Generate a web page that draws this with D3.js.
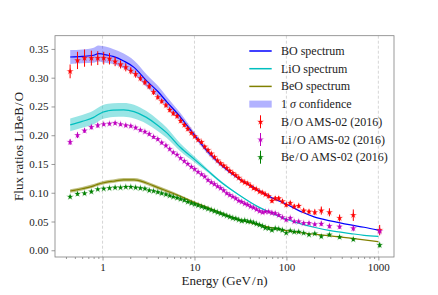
<!DOCTYPE html>
<html lang="en">
<head>
<meta charset="UTF-8">
<title>LiBeB/O ratios</title>
<script src="https://cdn.jsdelivr.net/npm/d3@7"></script>
<style>
  body { margin: 0; background: #fff; }
  text { font-family: "Liberation Serif", "DejaVu Serif", serif; fill: #222; }
</style>
</head>
<body>
<script>
// AMS-02 data points (kinetic energy per nucleon, GeV/n)
const energy = [0.444, 0.534, 0.637, 0.756, 0.887, 1.03, 1.19, 1.37, 1.57, 1.79,
  2.03, 2.29, 2.58, 2.89, 3.22, 3.59, 3.99, 4.40, 4.89, 5.38,
  5.88, 6.47, 7.07, 7.76, 8.46, 9.26, 10.05, 10.95, 11.95, 12.94,
  14.04, 15.24, 16.49, 17.84, 19.28, 20.83, 22.48, 24.23, 26.13, 28.18,
  30.33, 32.68, 35.22, 37.92, 40.77, 43.92, 47.27, 51.07, 55.07, 59.07,
  64.07, 69.57, 75.57, 82.57, 90.57, 99.57, 110.1, 121.6, 136.1, 154.1,
  176.1, 203.6, 239.6, 293.6, 379, 534, 1034];

const boData = [0.311, 0.330, 0.334, 0.334, 0.334, 0.334, 0.333, 0.328, 0.323, 0.318,
  0.312, 0.306, 0.299, 0.292, 0.285, 0.275, 0.266, 0.259, 0.252, 0.244,
  0.238, 0.233, 0.225, 0.218, 0.211, 0.204, 0.198, 0.192, 0.188, 0.180,
  0.174, 0.168, 0.162, 0.156, 0.151, 0.147, 0.143, 0.138, 0.134, 0.130,
  0.126, 0.121, 0.118, 0.116, 0.112, 0.108, 0.106, 0.102, 0.100, 0.097,
  0.094, 0.086, 0.090, 0.090, 0.085, 0.079, 0.082, 0.076, 0.077, 0.069,
  0.067, 0.066, 0.069, 0.066, 0.056, 0.061, 0.035];
const boErr = [0.012, 0.015, 0.015, 0.013, 0.012, 0.011, 0.010, 0.008, 0.007, 0.007,
  0.006, 0.006, 0.005, 0.005, 0.005, 0.005, 0.004, 0.004, 0.004, 0.004,
  0.004, 0.004, 0.004, 0.004, 0.004, 0.003, 0.003, 0.003, 0.003, 0.003,
  0.003, 0.003, 0.003, 0.003, 0.003, 0.003, 0.003, 0.003, 0.003, 0.003,
  0.003, 0.003, 0.003, 0.003, 0.003, 0.003, 0.003, 0.003, 0.003, 0.003,
  0.004, 0.004, 0.004, 0.004, 0.004, 0.004, 0.004, 0.004, 0.004, 0.004,
  0.004, 0.005, 0.007, 0.007, 0.006, 0.010, 0.009];

const lioData = [0.188, 0.200, 0.208, 0.214, 0.217, 0.219, 0.220, 0.221, 0.219, 0.217,
  0.216, 0.213, 0.209, 0.206, 0.202, 0.197, 0.193, 0.187, 0.182, 0.176,
  0.170, 0.166, 0.160, 0.155, 0.150, 0.145, 0.141, 0.136, 0.132, 0.128,
  0.122, 0.118, 0.115, 0.111, 0.108, 0.104, 0.099, 0.096, 0.093, 0.090,
  0.086, 0.084, 0.081, 0.079, 0.076, 0.074, 0.071, 0.068, 0.066, 0.067,
  0.067, 0.065, 0.064, 0.061, 0.057, 0.053, 0.056, 0.050, 0.050, 0.047,
  0.047, 0.045, 0.046, 0.042, 0.041, 0.038, 0.033];
const lioErr = [0.005, 0.005, 0.004, 0.004, 0.004, 0.003, 0.003, 0.003, 0.003, 0.003,
  0.003, 0.003, 0.003, 0.003, 0.003, 0.003, 0.003, 0.003, 0.003, 0.003,
  0.002, 0.002, 0.002, 0.002, 0.002, 0.002, 0.002, 0.002, 0.002, 0.002,
  0.002, 0.002, 0.002, 0.002, 0.002, 0.002, 0.002, 0.002, 0.002, 0.002,
  0.002, 0.002, 0.002, 0.002, 0.002, 0.002, 0.002, 0.002, 0.002, 0.002,
  0.003, 0.003, 0.003, 0.003, 0.003, 0.003, 0.003, 0.003, 0.003, 0.003,
  0.003, 0.003, 0.004, 0.004, 0.004, 0.005, 0.005];

const beoData = [0.093, 0.098, 0.099, 0.102, 0.106, 0.107, 0.108, 0.109, 0.109, 0.110,
  0.110, 0.109, 0.108, 0.107, 0.104, 0.103, 0.101, 0.099, 0.097, 0.095,
  0.093, 0.091, 0.089, 0.087, 0.084, 0.082, 0.080, 0.078, 0.076, 0.074,
  0.072, 0.070, 0.068, 0.066, 0.064, 0.062, 0.060, 0.058, 0.056, 0.055,
  0.053, 0.051, 0.052, 0.050, 0.050, 0.048, 0.046, 0.044, 0.042, 0.039,
  0.038, 0.035, 0.038, 0.037, 0.035, 0.030, 0.034, 0.032, 0.032, 0.030,
  0.027, 0.029, 0.024, 0.027, 0.023, 0.019, 0.009];
const beoErr = [0.003, 0.003, 0.003, 0.003, 0.002, 0.002, 0.002, 0.002, 0.002, 0.002,
  0.002, 0.002, 0.002, 0.002, 0.002, 0.002, 0.002, 0.002, 0.002, 0.002,
  0.002, 0.002, 0.002, 0.002, 0.002, 0.002, 0.002, 0.002, 0.002, 0.002,
  0.002, 0.002, 0.002, 0.002, 0.002, 0.002, 0.002, 0.002, 0.002, 0.002,
  0.002, 0.002, 0.002, 0.002, 0.002, 0.002, 0.002, 0.002, 0.002, 0.002,
  0.002, 0.002, 0.002, 0.002, 0.002, 0.002, 0.002, 0.002, 0.002, 0.002,
  0.002, 0.002, 0.003, 0.003, 0.003, 0.003, 0.004];

// model spectra
const modelE = [0.445, 0.6, 0.8, 0.9, 1.0, 1.15, 1.3, 1.7, 2.2, 3, 4, 5, 7, 10, 14,
  20, 30, 50, 70, 100, 150, 200, 300, 500, 700, 1000];
const boModel = [0.336, 0.337, 0.339, 0.342, 0.341, 0.339, 0.337, 0.329, 0.318, 0.295,
  0.276, 0.258, 0.232, 0.200, 0.171, 0.147, 0.125, 0.104, 0.091, 0.080,
  0.066, 0.058, 0.051, 0.044, 0.040, 0.035];
const boBand = [0.012, 0.012, 0.013, 0.014, 0.014, 0.014, 0.013, 0.013, 0.012, 0.011,
  0.010, 0.009, 0.007, 0.005, 0.004, 0.003, 0.002, 0.001, 0.001, 0.0005,
  0, 0, 0, 0, 0, 0];
const lioModel = [0.218, 0.224, 0.231, 0.236, 0.240, 0.2425, 0.2435, 0.244, 0.241, 0.231,
  0.217, 0.204, 0.179, 0.158, 0.138, 0.117, 0.097, 0.075, 0.064, 0.054,
  0.045, 0.040, 0.034, 0.029, 0.026, 0.024];
const lioBand = [0.011, 0.011, 0.012, 0.012, 0.012, 0.012, 0.012, 0.012, 0.012, 0.011,
  0.010, 0.009, 0.007, 0.005, 0.003, 0.002, 0.001, 0.0005, 0, 0,
  0, 0, 0, 0, 0, 0];
const beoModel = [0.103, 0.107, 0.112, 0.115, 0.117, 0.119, 0.120, 0.1225, 0.1225, 0.117,
  0.109, 0.103, 0.094, 0.083, 0.074, 0.064, 0.054, 0.044, 0.039, 0.034,
  0.030, 0.028, 0.025, 0.021, 0.018, 0.015];
const beoBand = [0.003, 0.003, 0.003, 0.003, 0.003, 0.003, 0.003, 0.003, 0.003, 0.003,
  0.003, 0.003, 0.002, 0.002, 0.0015, 0.001, 0.001, 0.0005, 0.0005, 0,
  0, 0, 0, 0, 0, 0];

const xTicks = [1, 10, 100, 1000];
const yTicks = [0, 0.05, 0.10, 0.15, 0.20, 0.25, 0.30, 0.35];

let width = 438;
let height = 295;
let mLeft = 55, mRight = 394, mTop = 35.7, mBottom = 257;

let x = d3.scaleLog().domain([0.304, 1480]).range([mLeft, mRight]);
let y = d3.scaleLinear().domain([-0.0117, 0.373]).range([mBottom, mTop]);

let svg = d3.select('body').append('svg')
  .attr('width', width)
  .attr('height', height);

svg.append('defs').append('clipPath').attr('id', 'clip')
  .append('rect')
  .attr('x', mLeft).attr('y', mTop)
  .attr('width', mRight - mLeft).attr('height', mBottom - mTop);

// grid
svg.append('g')
  .selectAll('line')
  .data(xTicks)
  .enter()
  .append('line')
  .attr('x1', d => x(d)).attr('x2', d => x(d))
  .attr('y1', mTop).attr('y2', mBottom)
  .attr('stroke', '#cccccc')
  .attr('stroke-width', 0.8)
  .attr('stroke-dasharray', '3,2');

let plot = svg.append('g').attr('clip-path', 'url(#clip)');

let models = [
  {vals: boModel, band: boBand, color: '#0000ff', fill: '#0000ff', alpha: 0.3},
  {vals: lioModel, band: lioBand, color: '#00bfbf', fill: '#00bfbf', alpha: 0.4},
  {vals: beoModel, band: beoBand, color: '#808000', fill: '#808000', alpha: 0.5}
];

let area = d3.area()
  .x(d => x(d.e))
  .y0(d => y(d.v - d.b))
  .y1(d => y(d.v + d.b))
  .curve(d3.curveMonotoneX);

let line = d3.line()
  .x(d => x(d.e))
  .y(d => y(d.v))
  .curve(d3.curveMonotoneX);

models.forEach(function (m) {
  let pts = modelE.map((e, i) => ({e: e, v: m.vals[i], b: m.band[i]}));
  plot.append('path')
    .attr('d', area(pts))
    .attr('fill', m.fill)
    .attr('fill-opacity', m.alpha);
  plot.append('path')
    .attr('d', line(pts))
    .attr('fill', 'none')
    .attr('stroke', m.color)
    .attr('stroke-width', 1.2);
});

let star = d3.symbol().type(d3.symbolStar);

let series = [
  {vals: boData, err: boErr, color: '#ff0000'},
  {vals: lioData, err: lioErr, color: '#bf00bf'},
  {vals: beoData, err: beoErr, color: '#008000'}
];

series.forEach(function (s) {
  let g = plot.append('g');
  let pts = energy.map((e, i) => ({e: e, v: s.vals[i], err: s.err[i]}));
  g.selectAll('line')
    .data(pts)
    .enter()
    .append('line')
    .attr('x1', d => x(d.e)).attr('x2', d => x(d.e))
    .attr('y1', d => y(d.v - d.err)).attr('y2', d => y(d.v + d.err))
    .attr('stroke', s.color)
    .attr('stroke-width', 1);
  g.selectAll('path.halo')
    .data(pts)
    .enter()
    .append('path')
    .attr('class', 'halo')
    .attr('d', star.size(20)())
    .attr('transform', d => 'translate(' + x(d.e) + ',' + y(d.v) + ')')
    .attr('fill', s.color)
    .attr('fill-opacity', 0.3);
  g.selectAll('path.mk')
    .data(pts)
    .enter()
    .append('path')
    .attr('class', 'mk')
    .attr('d', star.size(9)())
    .attr('transform', d => 'translate(' + x(d.e) + ',' + y(d.v) + ')')
    .attr('fill', s.color);
});

// axes
let xAxis = d3.axisBottom(x)
  .tickValues(xTicks)
  .tickFormat(d3.format('d'))
  .tickSize(3.5)
  .tickPadding(3);

let minor = [];
[0.1, 1, 10, 100, 1000].forEach(function (dec) {
  for (let k = 2; k <= 9; k++) {
    let v = dec * k;
    if (v > 0.304 && v < 1480) minor.push(v);
  }
});

let xMinor = d3.axisBottom(x)
  .tickValues(minor)
  .tickFormat('')
  .tickSize(2);

let yAxis = d3.axisLeft(y)
  .tickValues(yTicks)
  .tickFormat(d3.format('.2f'))
  .tickSize(3.5)
  .tickPadding(3);

[xAxis, xMinor].forEach(function (ax) {
  svg.append('g')
    .attr('class', 'axis')
    .attr('transform', 'translate(0,' + mBottom + ')')
    .call(ax);
});

svg.append('g')
  .attr('class', 'axis')
  .attr('transform', 'translate(' + mLeft + ',0)')
  .call(yAxis);

svg.selectAll('.axis .domain').remove();
svg.selectAll('.axis line').attr('stroke', '#808080').attr('stroke-width', 0.8);
svg.selectAll('.axis text')
  .style('font-family', '"Liberation Serif", serif')
  .style('font-size', '11px')
  .attr('fill', '#222');

svg.append('rect')
  .attr('x', mLeft).attr('y', mTop)
  .attr('width', mRight - mLeft).attr('height', mBottom - mTop)
  .attr('fill', 'none')
  .attr('stroke', '#808080')
  .attr('stroke-width', 0.8);

// axis labels
svg.append('text')
  .attr('x', (mLeft + mRight) / 2)
  .attr('y', 285)
  .attr('text-anchor', 'middle')
  .style('font-size', '13px')
  .text('Energy (GeV\u200a/\u200an)');

svg.append('text')
  .attr('transform', 'translate(23,' + ((mTop + mBottom) / 2) + ') rotate(-90)')
  .attr('text-anchor', 'middle')
  .style('font-size', '13px')
  .text('Flux ratios LiBeB\u200a/\u200aO');

// legend
let legendItems = [
  {label: 'BO spectrum', type: 'line', color: '#0000ff'},
  {label: 'LiO spectrum', type: 'line', color: '#00bfbf'},
  {label: 'BeO spectrum', type: 'line', color: '#808000'},
  {label: '1 \u03c3 confidence', type: 'patch', color: '#0000ff'},
  {label: 'B\u200a/\u200aO AMS-02 (2016)', type: 'err', color: '#ff0000'},
  {label: 'Li\u200a/\u200aO AMS-02 (2016)', type: 'err', color: '#bf00bf'},
  {label: 'Be\u200a/\u200aO AMS-02 (2016)', type: 'err', color: '#008000'}
];

let lg = svg.append('g');
legendItems.forEach(function (d, i) {
  let yy = 51 + i * 17.7;
  if (d.type === 'line') {
    lg.append('line')
      .attr('x1', 249.3).attr('x2', 271.7)
      .attr('y1', yy).attr('y2', yy)
      .attr('stroke', d.color).attr('stroke-width', 1.5);
  } else if (d.type === 'patch') {
    lg.append('rect')
      .attr('x', 249.3).attr('y', yy - 3.5)
      .attr('width', 22.4).attr('height', 7)
      .attr('fill', d.color).attr('fill-opacity', 0.3);
  } else {
    lg.append('line')
      .attr('x1', 260.5).attr('x2', 260.5)
      .attr('y1', yy - 6.5).attr('y2', yy + 6.5)
      .attr('stroke', d.color).attr('stroke-width', 1);
    lg.append('path')
      .attr('d', star.size(20)())
      .attr('transform', 'translate(260.5,' + yy + ')')
      .attr('fill', d.color).attr('fill-opacity', 0.3);
    lg.append('path')
      .attr('d', star.size(9)())
      .attr('transform', 'translate(260.5,' + yy + ')')
      .attr('fill', d.color);
  }
  let t = lg.append('text')
    .attr('x', 281)
    .attr('y', yy + 4)
    .style('font-size', '12px');
  if (d.type === 'patch') {
    t.append('tspan').text('1 ');
    t.append('tspan').style('font-style', 'italic').text('\u03c3');
    t.append('tspan').text(' confidence');
  } else {
    t.text(d.label);
  }
});
</script>
</body>
</html>
